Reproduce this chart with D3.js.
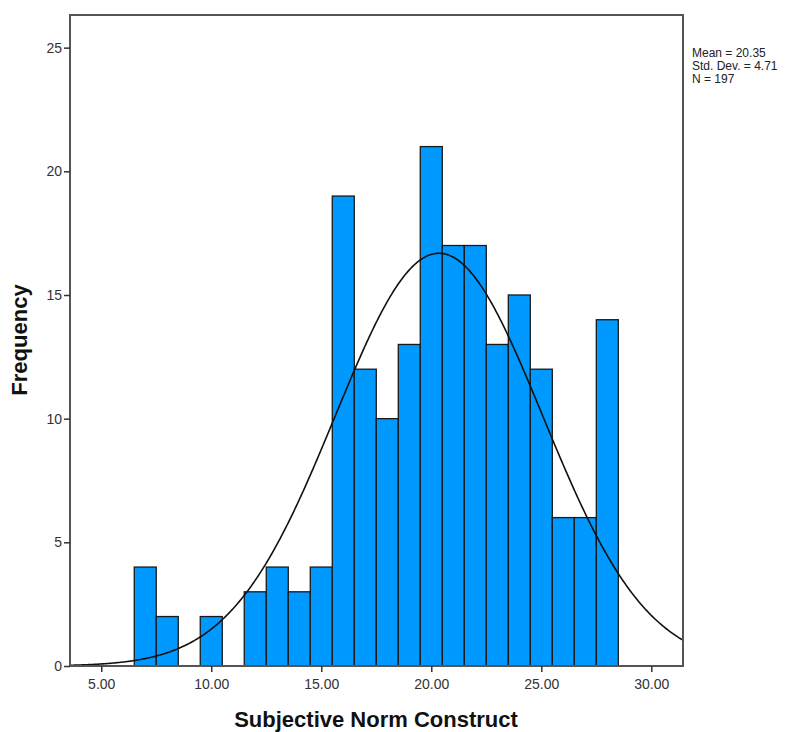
<!DOCTYPE html>
<html>
<head>
<meta charset="utf-8">
<script src="https://cdn.jsdelivr.net/npm/d3@7"></script>
<style>
  body { margin: 0; background: #fff; }
  text { font-family: Arial, "Liberation Sans", sans-serif; }
</style>
</head>
<body>
<div id="chart"></div>
<script>
// histogram bins (centre value) and their counts
const binCentres = [7, 8, 10, 12, 13, 14, 15, 16, 17, 18, 19, 20, 21, 22, 23, 24, 25, 26, 27, 28];
const binCounts = [4, 2, 2, 3, 4, 3, 4, 19, 12, 10, 13, 21, 17, 17, 13, 15, 12, 6, 6, 14];
const xTicks = [5, 10, 15, 20, 25, 30];
const yTicks = [0, 5, 10, 15, 20, 25];
const statLines = ['Mean = 20.35', 'Std. Dev. = 4.71', 'N = 197'];
const mean = 20.35, sd = 4.71, n = 197, binWidth = 1;

const width = 809, height = 732,
   plot = {left: 70, top: 15, right: 683, bottom: 666};

const svg = d3.select('#chart')
   .append('svg')
   .attr('width', width)
   .attr('height', height);

const x = d3.scaleLinear()
   .domain([3.58, 31.44])
   .range([plot.left, plot.right]);

const y = d3.scaleLinear()
   .domain([0, 26.32])
   .range([plot.bottom, plot.top]);

svg.append('defs').append('clipPath')
   .attr('id', 'clip')
   .append('rect')
   .attr('x', plot.left).attr('y', plot.top)
   .attr('width', plot.right - plot.left)
   .attr('height', plot.bottom - plot.top);

// bars
svg.append('g')
   .selectAll('rect')
   .data(binCentres.map((c, i) => ({c, v: binCounts[i]})))
   .join('rect')
   .attr('x', d => x(d.c - binWidth / 2))
   .attr('width', d => x(d.c + binWidth / 2) - x(d.c - binWidth / 2))
   .attr('y', d => y(d.v))
   .attr('height', d => y(0) - y(d.v))
   .attr('fill', '#0099ff')
   .attr('stroke', '#1a1a1a')
   .attr('stroke-width', 1.3);

// normal curve
const curvePts = d3.range(3.58, 31.45, 0.05).map(v => [v,
   n * binWidth / (sd * Math.sqrt(2 * Math.PI)) * Math.exp(-0.5 * Math.pow((v - mean) / sd, 2))]);

svg.append('path')
   .datum(curvePts)
   .attr('clip-path', 'url(#clip)')
   .attr('fill', 'none')
   .attr('stroke', '#111')
   .attr('stroke-width', 1.6)
   .attr('d', d3.line().x(d => x(d[0])).y(d => y(d[1])));

// frame
svg.append('rect')
   .attr('x', plot.left).attr('y', plot.top)
   .attr('width', plot.right - plot.left)
   .attr('height', plot.bottom - plot.top)
   .attr('fill', 'none')
   .attr('stroke', '#555')
   .attr('stroke-width', 2);

const xAxis = svg.append('g')
   .attr('transform', `translate(0, ${plot.bottom})`)
   .call(d3.axisBottom(x).tickValues(xTicks).tickFormat(d3.format('.2f')).tickSizeOuter(0).tickSize(6).tickPadding(7));

const yAxis = svg.append('g')
   .attr('transform', `translate(${plot.left}, 0)`)
   .call(d3.axisLeft(y).tickValues(yTicks).tickSizeOuter(0).tickSize(6).tickPadding(2));

[xAxis, yAxis].forEach(ax => {
   ax.select('.domain').remove();
   ax.selectAll('.tick line').attr('stroke', '#333').attr('stroke-width', 1.5);
   ax.selectAll('.tick text')
      .attr('fill', '#333')
      .style('font-size', '14px')
      .style('font-family', 'Arial, "Liberation Sans", sans-serif');
});

svg.append('text')
   .attr('x', 376)
   .attr('y', 727)
   .attr('text-anchor', 'middle')
   .style('font-size', '22px')
   .style('font-weight', 'bold')
   .attr('fill', '#111')
   .text('Subjective Norm Construct');

svg.append('text')
   .attr('transform', `translate(27, 340) rotate(-90)`)
   .attr('text-anchor', 'middle')
   .style('font-size', '22px')
   .style('font-weight', 'bold')
   .attr('fill', '#111')
   .text('Frequency');

svg.append('g')
   .selectAll('text')
   .data(statLines)
   .join('text')
   .attr('x', 692)
   .attr('y', (d, i) => 57 + i * 13)
   .style('font-size', '12px')
   .attr('fill', '#222')
   .text(d => d);
</script>
</body>
</html>
